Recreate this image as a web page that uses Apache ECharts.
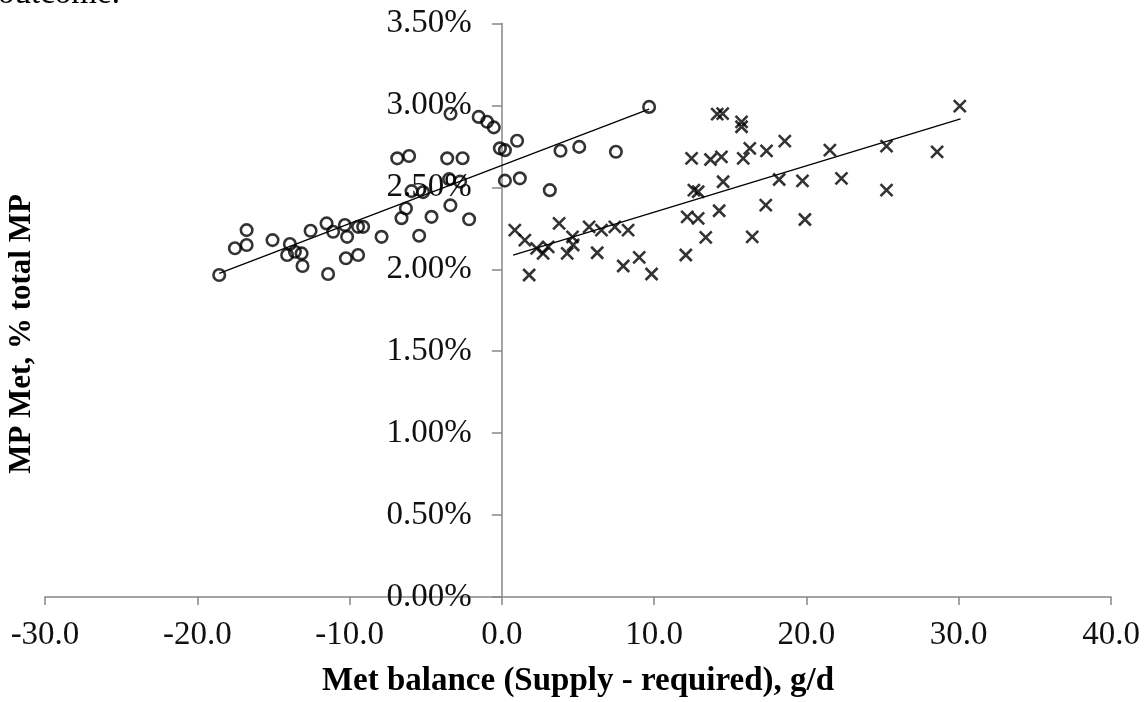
<!DOCTYPE html>
<html>
<head>
<meta charset="utf-8">
<script src="https://cdn.jsdelivr.net/npm/echarts@6/dist/echarts.min.js"></script>
<style>
html,body{margin:0;padding:0;background:#fff;}
#chart{width:1145px;height:702px;}
</style>
</head>
<body>
<div id="chart"></div>
<script>
// ---- data ----
var circleX = [-18.56,-17.53,-16.76,-16.76,-15.06,-13.92,-14.10,-13.59,-13.15,-13.09,-12.56,-11.51,-11.08,-11.41,-10.31,-10.16,-9.44,-9.11,-10.24,-9.44,-7.90,-6.87,-6.09,-6.30,-6.59,-5.93,-5.17,-5.43,-4.62,-3.59,-2.58,-3.46,-2.74,-3.38,-2.15,-3.37,-1.52,-0.97,-0.53,-0.13,0.20,1.00,0.20,1.18,3.85,5.08,7.49,3.15,9.67];
var circleY = [1.965,2.128,2.148,2.239,2.178,2.154,2.087,2.107,2.097,2.020,2.235,2.280,2.229,1.971,2.270,2.198,2.259,2.259,2.067,2.087,2.198,2.677,2.691,2.371,2.312,2.477,2.471,2.205,2.320,2.677,2.678,2.550,2.535,2.390,2.305,2.949,2.930,2.900,2.866,2.738,2.727,2.784,2.541,2.555,2.723,2.747,2.717,2.483,2.991];

var crossX = [0.85,1.51,1.79,2.28,2.71,3.04,3.76,4.29,4.64,4.68,5.73,6.26,6.54,7.42,8.29,7.97,9.02,9.83,12.08,12.17,12.89,13.39,12.46,12.61,12.89,13.70,14.27,14.53,14.14,14.50,14.42,15.74,15.74,15.85,16.28,16.44,17.33,17.38,18.58,18.21,19.74,19.90,21.54,22.30,25.26,25.26,28.58,30.07];
var crossY = [2.239,2.178,1.965,2.128,2.097,2.137,2.280,2.097,2.198,2.148,2.259,2.101,2.239,2.259,2.239,2.020,2.073,1.971,2.087,2.320,2.311,2.195,2.677,2.483,2.473,2.670,2.357,2.534,2.947,2.950,2.686,2.900,2.870,2.677,2.738,2.198,2.392,2.723,2.782,2.548,2.540,2.304,2.727,2.555,2.752,2.483,2.717,2.996];

var trendX1 = [-18.56, 9.67];
var trendY1 = [1.975, 2.978];
var trendX2 = [0.74, 30.12];
var trendY2 = [2.087, 2.918];

var xTicks = {min: -30, max: 40, interval: 10};
var yTicks = {min: 0, max: 3.5, interval: 0.5};
var yAxisCrossAt = 0;

var xTitle = 'Met balance (Supply - required), g/d';
var yTitle = 'MP Met, % total MP';
var topText = 'outcome.';

function zip(a, b) { return a.map(function (v, i) { return [v, b[i]]; }); }

var FONT = '"Liberation Serif", "Times New Roman", serif';
var GRID_LEFT = 45, GRID_RIGHT = 34;
var plotW = 1145 - GRID_LEFT - GRID_RIGHT;
// the y axis sits where x = yAxisCrossAt, shifted there with a (negative) axis offset
var yAxisOffset = -plotW * (yAxisCrossAt - xTicks.min) / (xTicks.max - xTicks.min);

var chart = echarts.init(document.getElementById('chart'), null, {renderer: 'canvas'});
chart.setOption({
  backgroundColor: '#ffffff',
  animation: false,
  grid: {left: GRID_LEFT, right: GRID_RIGHT, top: 23.5, bottom: 105, containLabel: false, outerBoundsMode: 'none'},
  xAxis: {
    type: 'value', min: xTicks.min, max: xTicks.max, interval: xTicks.interval,
    name: xTitle, nameLocation: 'middle', nameGap: 68,
    nameTextStyle: {fontFamily: FONT, fontSize: 33, fontWeight: 'bold', color: '#000'},
    axisLine: {show: true, onZero: false, lineStyle: {color: '#868686', width: 1.5}},
    axisTick: {show: true, length: 8, lineStyle: {color: '#868686', width: 1.5}},
    axisLabel: {margin: 22, fontFamily: FONT, fontSize: 33, color: '#111',
      formatter: function (v) { return v.toFixed(1); }},
    splitLine: {show: false}
  },
  yAxis: {
    type: 'value', min: yTicks.min, max: yTicks.max, interval: yTicks.interval,
    offset: yAxisOffset,
    axisLine: {show: true, onZero: false, lineStyle: {color: '#868686', width: 1.5}},
    axisTick: {show: true, length: 10, lineStyle: {color: '#868686', width: 1.5}},
    axisLabel: {margin: 30, fontFamily: FONT, fontSize: 33, color: '#111',
      formatter: function (v) { return v.toFixed(2) + '%'; }},
    splitLine: {show: false}
  },
  graphic: [
    {type: 'text', left: -2, top: -22, z: 10,
      style: {text: topText, font: '33px ' + FONT, fill: '#000'}},
    {type: 'text', x: 22, y: 334, rotation: Math.PI / 2, z: 10,
      style: {text: yTitle, font: 'bold 31px ' + FONT, fill: '#000', align: 'center', verticalAlign: 'middle'}}
  ],
  series: [
    {type: 'line', data: zip(trendX1, trendY1), symbol: 'none', silent: true,
      lineStyle: {color: '#000', width: 1.3}, z: 3},
    {type: 'line', data: zip(trendX2, trendY2), symbol: 'none', silent: true,
      lineStyle: {color: '#000', width: 1.3}, z: 3},
    {type: 'scatter', data: zip(circleX, circleY), symbol: 'circle', symbolSize: 11.5,
      itemStyle: {color: 'rgba(0,0,0,0)', borderColor: '#000', borderWidth: 2.6}, z: 4},
    {type: 'scatter', data: zip(crossX, crossY), symbol: 'path://M0,0L10,10M10,0L0,10', symbolSize: 12,
      itemStyle: {color: 'rgba(0,0,0,0)', borderColor: '#000', borderWidth: 2.6}, z: 4}
  ]
});
</script>
</body>
</html>
